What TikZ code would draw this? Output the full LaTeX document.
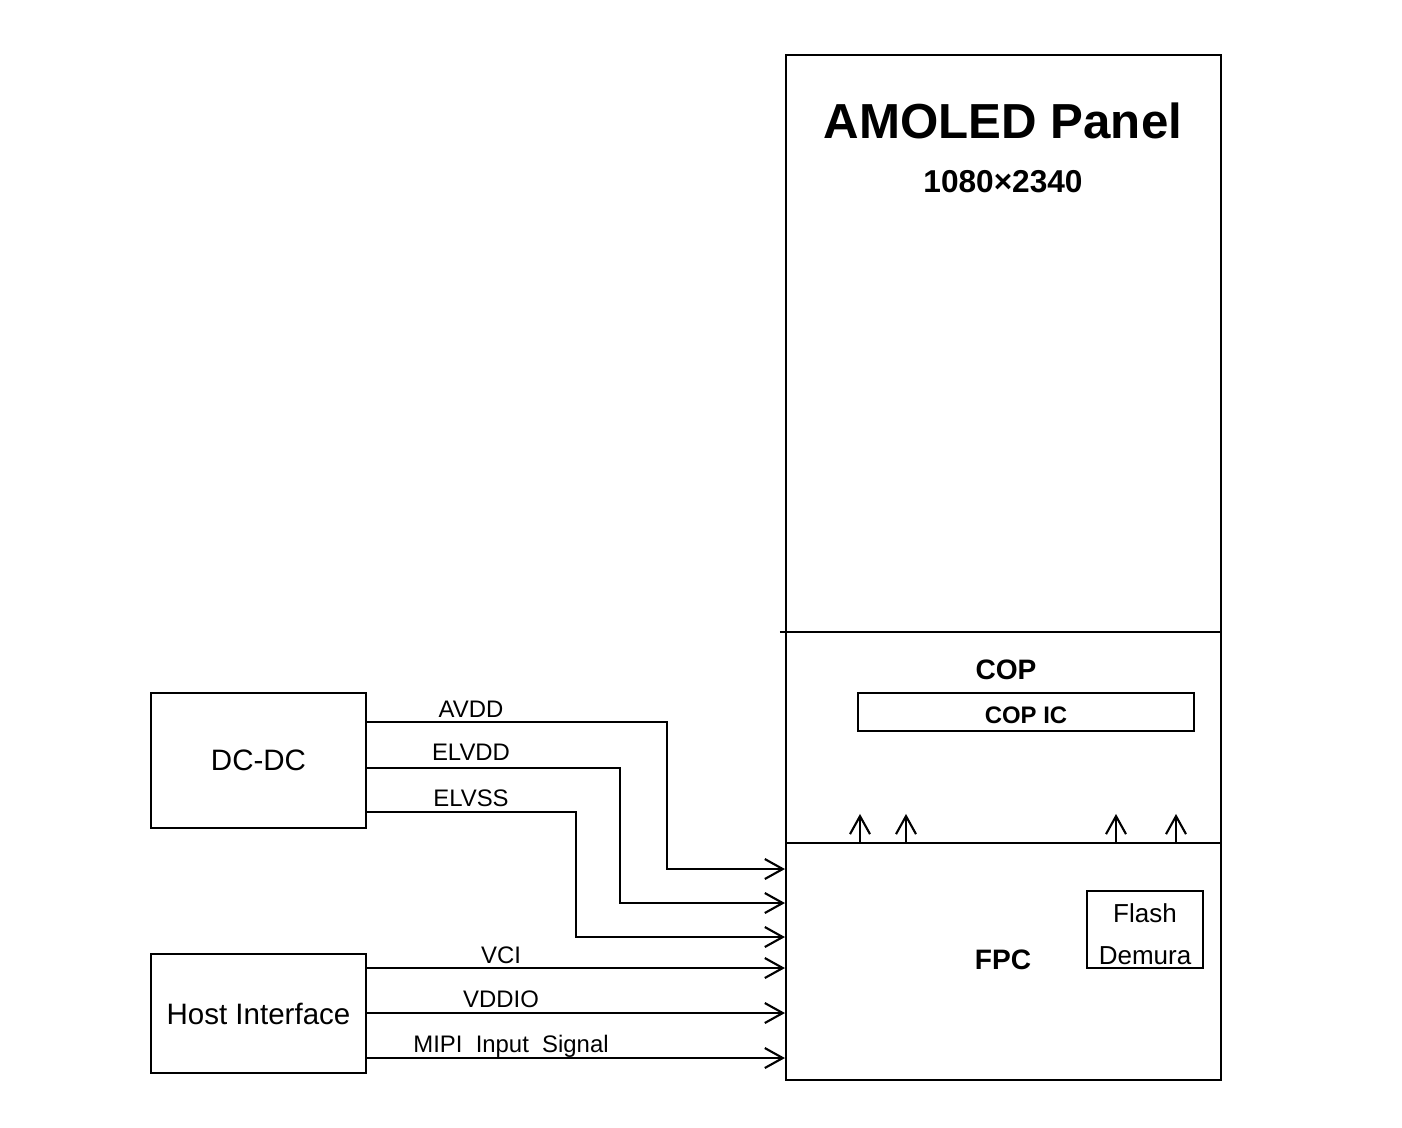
\documentclass[tikz,border=0pt]{standalone}
\usepackage{fontspec}
\setmainfont{Liberation Sans}
\usetikzlibrary{arrows.meta,positioning}

\tikzset{
 box/.style={draw, line width=0.6pt, inner sep=0pt},
 wire/.style={line width=0.6pt},
 sig/.style={line width=0.6pt, -{Straight Barb[length=1.8mm,width=2mm,line width=0.6pt]}},
 lbl/.style={inner sep=0pt, font=\fontsize{6.8}{8}\selectfont},
 blk/.style={font=\fontsize{8.4}{10}\selectfont},
 hdr/.style={inner sep=0pt, font=\fontsize{8}{10}\selectfont\bfseries}
}

\begin{document}
\begin{tikzpicture}[x=0.1mm,y=-0.1mm]
 \useasboundingbox (0,0) rectangle (1402,1127);
 % panel, cop and fpc
 \node[box, minimum width=43.5mm, minimum height=78.8mm] (panel) at (1003.5,449) {};
 \node[box, minimum width=43.5mm, minimum height=23.7mm] (fpc) at (1003.5,961.5) {};
 \node[hdr] (fpctxt) at (1003,960) {FPC};
 \node[inner sep=0pt, font=\fontsize{14}{16}\selectfont\bfseries] (title) at (1003,121) {AMOLED Panel};
 \node[inner sep=0pt, font=\fontsize{9}{11}\selectfont\bfseries] (res) at (1003,182) {1080×2340};
 \draw[wire] (panel.west |- 0,632) ++(-5,0) -- (panel.east |- 0,632);
 \node[hdr] (cop) at (1006,670) {COP};
 \node[box, minimum width=33.6mm, minimum height=3.8mm] (copic) at (1026,712) {};
 \node[inner sep=0pt, font=\fontsize{6.8}{8}\selectfont\bfseries] (copictxt) at (1026,715) {COP IC};
 \node[box, minimum width=11.6mm, minimum height=7.7mm] (flash) at (1145,929.5) {};
 \node[align=center, inner sep=0pt, font=\fontsize{7.4}{12}\selectfont] (flashtxt) at (1145,934) {Flash\\Demura};
 \foreach \x in {860,906,1116,1176}
  \draw[sig] (fpc.north -| \x,0) -- ++(0,-28);

 % sources
 \node[box, blk, minimum width=21.5mm, minimum height=13.5mm] (dcdc) at (258.5,760.5) {DC-DC};
 \node[box, blk, minimum width=21.5mm, minimum height=11.9mm] (host) at (258.5,1013.5) {Host Interface};

 \draw[sig] (dcdc.east |- 0,722) -| (667,869) -- (fpc.west |- 0,869);
 \draw[sig] (dcdc.east |- 0,768) -| (620,903) -- (fpc.west |- 0,903);
 \draw[sig] (dcdc.east |- 0,812) -| (576,937) -- (fpc.west |- 0,937);
 \draw[sig] (host.east |- 0,968) -- (fpc.west |- 0,968);
 \draw[sig] (host.east |- 0,1013) -- (fpc.west |- 0,1013);
 \draw[sig] (host.east |- 0,1058) -- (fpc.west |- 0,1058);

 \node[lbl] (avdd) at (471,709) {AVDD};
 \node[lbl] (elvdd) at (471,752) {ELVDD};
 \node[lbl] (elvss) at (471,798) {ELVSS};
 \node[lbl] (vci) at (501,955) {VCI};
 \node[lbl] (vddio) at (501,999) {VDDIO};
 \node[lbl] (mipi) at (511,1046) {MIPI~ Input~ Signal};
\end{tikzpicture}
\end{document}
